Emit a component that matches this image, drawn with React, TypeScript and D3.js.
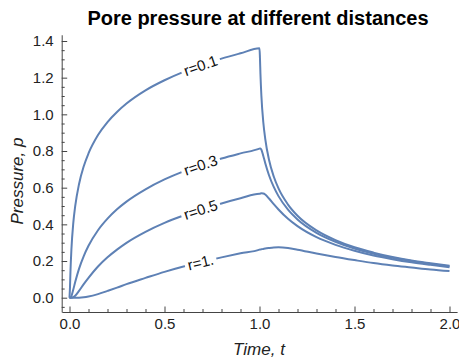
import React, { useEffect, useRef } from "react";
import * as d3 from "d3";

// sample times (shared by all curves)
const times = [
  0, 0.0025, 0.005, 0.01, 0.02, 0.03, 0.05, 0.075, 0.1, 0.15, 0.2, 0.25, 0.3,
  0.4, 0.5, 0.6, 0.7, 0.8, 0.9, 1.0, 1.0025, 1.005, 1.01, 1.02, 1.03, 1.05,
  1.075, 1.1, 1.15, 1.2, 1.3, 1.4, 1.5, 1.6, 1.7, 1.8, 1.9, 2.0,
];

// pressure, one list per distance
const pR01 = [
  0, 0.055, 0.141, 0.262, 0.408, 0.499, 0.619, 0.717, 0.787, 0.887, 0.958,
  1.013, 1.059, 1.131, 1.186, 1.232, 1.27, 1.304, 1.333, 1.36, 1.305, 1.22,
  1.1, 0.957, 0.868, 0.752, 0.661, 0.596, 0.508, 0.447, 0.367, 0.314, 0.275,
  0.246, 0.222, 0.203, 0.188, 0.174,
];
const pR03 = [
  0, 0, 0.0005, 0.0085, 0.045, 0.085, 0.157, 0.227, 0.283, 0.368, 0.431,
  0.482, 0.524, 0.591, 0.645, 0.689, 0.726, 0.759, 0.787, 0.813, 0.814,
  0.814, 0.807, 0.773, 0.735, 0.668, 0.604, 0.554, 0.48, 0.427, 0.354, 0.305,
  0.268, 0.24, 0.218, 0.2, 0.184, 0.171,
];
const pR05 = [
  0, 0, 0, 0.0001, 0.0028, 0.011, 0.037, 0.074, 0.108, 0.17, 0.22, 0.262,
  0.299, 0.359, 0.408, 0.448, 0.483, 0.514, 0.542, 0.567, 0.567, 0.568,
  0.569, 0.568, 0.563, 0.541, 0.51, 0.481, 0.43, 0.39, 0.33, 0.288, 0.256,
  0.23, 0.21, 0.193, 0.179, 0.166,
];
const pR10 = [
  0, 0, 0, 0, 0, 0, 0.0003, 0.0022, 0.0063, 0.0195, 0.037, 0.055, 0.074,
  0.108, 0.141, 0.17, 0.196, 0.22, 0.242, 0.262, 0.263, 0.263, 0.264, 0.266,
  0.268, 0.271, 0.274, 0.275, 0.271, 0.262, 0.241, 0.222, 0.205, 0.189, 0.176,
  0.165, 0.154, 0.145,
];

const series = [pR01, pR03, pR05, pR10];
const curveLabels = ["r=0.1", "r=0.3", "r=0.5", "r=1."];
const labelTime = 0.69;

const xTicks = [0, 0.5, 1, 1.5, 2];
const xMinor = d3.range(0, 21).map((i) => i / 10).filter((v) => Math.round(v * 10) % 5 !== 0);
const yTicks = [0, 0.2, 0.4, 0.6, 0.8, 1.0, 1.2, 1.4];
const yMinor = d3.range(-1, 29).map((i) => i / 20).filter((v) => Math.round(v * 20) % 4 !== 0);

const W = 459;
const H = 360;
const blue = "#5E81B5";
const font = "'Liberation Sans', Arial, sans-serif";

export default function App() {
  const ref = useRef(null);

  useEffect(() => {
    const svg = d3.select(ref.current);
    svg.selectAll("*").remove();

    const x = d3.scaleLinear().domain([0, 2]).range([69.5, 449.5]);
    const y = d3.scaleLinear().domain([0, 1.4]).range([297.7, 41]);

    // axis scales stretch a bit past the data range, like the original
    const xa = d3.scaleLinear().domain([-0.04, 2.04]).range([x(-0.04), x(2.04)]);
    const ya = d3.scaleLinear().domain([-0.078, 1.434]).range([y(-0.078), y(1.434)]);
    const xAxisY = 312;
    const yAxisX = 61.7;

    // title
    svg.append("text")
      .attr("x", 258)
      .attr("y", 25)
      .attr("text-anchor", "middle")
      .style("font-family", font)
      .style("font-weight", "bold")
      .style("font-size", "20px")
      .attr("fill", "#000")
      .text("Pore pressure at different distances");

    // X axis
    const gx = svg.append("g")
      .attr("transform", `translate(0,${xAxisY})`)
      .call(d3.axisBottom(xa).tickValues(xTicks).tickFormat(d3.format(".1f"))
        .tickSizeInner(-5.5).tickSizeOuter(0).tickPadding(6));
    gx.append("g").call(d3.axisBottom(xa).tickValues(xMinor).tickFormat(() => "")
      .tickSizeInner(-3).tickSizeOuter(0))
      .select(".domain").remove();

    // Y axis
    const gy = svg.append("g")
      .attr("transform", `translate(${yAxisX},0)`)
      .call(d3.axisLeft(ya).tickValues(yTicks).tickFormat(d3.format(".1f"))
        .tickSizeInner(-5.5).tickSizeOuter(0).tickPadding(8));
    gy.append("g").call(d3.axisLeft(ya).tickValues(yMinor).tickFormat(() => "")
      .tickSizeInner(-3).tickSizeOuter(0))
      .select(".domain").remove();

    [gx, gy].forEach((g) => {
      g.attr("color", "#444");
      g.selectAll("text")
        .attr("fill", "#222")
        .style("font-family", font)
        .style("font-size", "15px");
    });

    // axis labels
    svg.append("text")
      .attr("x", 259)
      .attr("y", 355)
      .attr("text-anchor", "middle")
      .style("font-family", font)
      .style("font-style", "italic")
      .style("font-size", "17px")
      .attr("fill", "#222")
      .text("Time, t");

    svg.append("text")
      .attr("transform", "translate(23,181) rotate(-90)")
      .attr("text-anchor", "middle")
      .style("font-family", font)
      .style("font-style", "italic")
      .style("font-size", "17px")
      .attr("fill", "#222")
      .text("Pressure, p");

    // curves
    const line = d3.line()
      .x((d) => x(d[0]))
      .y((d) => y(d[1]))
      .curve(d3.curveMonotoneX);

    series.forEach((vals) => {
      svg.append("path")
        .datum(times.map((t, i) => [t, vals[i]]))
        .attr("d", line)
        .attr("fill", "none")
        .attr("stroke", blue)
        .attr("stroke-width", 2)
        .attr("stroke-linejoin", "round");
    });

    // inline labels, rotated along the curve
    series.forEach((vals, i) => {
      const pv = d3.scaleLinear().domain(times).range(vals);
      const px = x(labelTime);
      const py = y(pv(labelTime));
      const x1 = x(0.6), y1 = y(pv(0.6));
      const x2 = x(0.8), y2 = y(pv(0.8));
      const angle = (Math.atan2(y2 - y1, x2 - x1) * 180) / Math.PI;

      const g = svg.append("g")
        .attr("transform", `translate(${px},${py}) rotate(${angle})`);
      const rect = g.append("rect").attr("fill", "#fff");
      const txt = g.append("text")
        .attr("text-anchor", "middle")
        .attr("dy", "0.35em")
        .style("font-family", font)
        .style("font-size", "15px")
        .attr("fill", "#111")
        .text(curveLabels[i]);
      const w = txt.node().getComputedTextLength();
      rect.attr("x", -w / 2 - 3)
        .attr("y", -8)
        .attr("width", w + 6)
        .attr("height", 16);
    });
  }, []);

  return (
    <svg
      ref={ref}
      width={W}
      height={H}
      style={{ position: "absolute", left: 0, top: 0, background: "#fff" }}
    />
  );
}
